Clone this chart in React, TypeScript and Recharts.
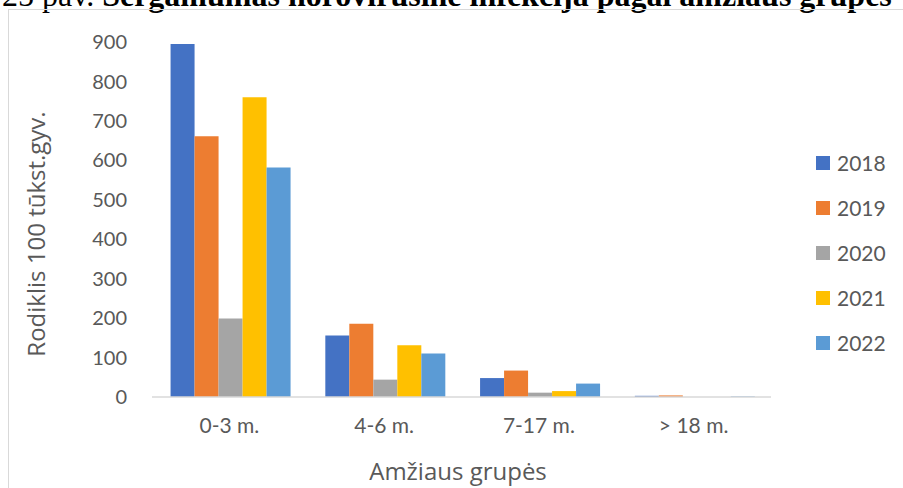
import { BarChart, Bar, XAxis, YAxis, Label } from "recharts"

const groups = ["0-3 m.", "4-6 m.", "7-17 m.", "> 18 m."]
const years = ["2018", "2019", "2020", "2021", "2022"]
const colors = ["#4472C4", "#ED7D31", "#A5A5A5", "#FFC000", "#5B9BD5"]

const v2018 = [895, 156, 48, 3]
const v2019 = [661, 186, 67, 4]
const v2020 = [199, 44, 11, 0]
const v2021 = [760, 131, 15, 0]
const v2022 = [582, 110, 34, 1.5]

const yTicks = [0, 100, 200, 300, 400, 500, 600, 700, 800, 900]

const series = [v2018, v2019, v2020, v2021, v2022]
const data = groups.map((g, i) => {
  const row: Record<string, string | number> = { group: g }
  years.forEach((y, k) => {
    row[y] = series[k][i]
  })
  return row
})

const FONT = "Lato, 'Open Sans', sans-serif"
const TITLE_FONT = "'Open Sans', Lato, sans-serif"
const TEXT = "#595959"

function LegendBox() {
  return (
    <div style={{ position: "absolute", left: 816, top: 140, fontFamily: FONT }}>
      {years.map((y, i) => (
        <div key={y} style={{ display: "flex", alignItems: "center", height: 45 }}>
          <span style={{ width: 14, height: 14, background: colors[i], marginRight: 7 }} />
          <span style={{ fontSize: 21, color: TEXT }}>{y}</span>
        </div>
      ))}
    </div>
  )
}

export default function App() {
  return (
    <div style={{ position: "absolute", left: 0, top: 0, width: 903, height: 488, overflow: "hidden", background: "#fff" }}>
      <svg width={903} height={20} style={{ position: "absolute", left: 0, top: 0 }}>
        <text x={2} y={6} fontFamily="'Liberation Serif', serif" fontSize={32} fill="#000">
          25 pav. <tspan fontWeight="bold">Sergamumas norovirusine infekcija pagal amžiaus grupes</tspan>
        </text>
      </svg>
      <div
        style={{
          position: "absolute",
          left: 8,
          top: 9,
          width: 1000,
          height: 600,
          border: "1.5px solid #d9d9d9",
        }}
      />
      <div style={{ position: "absolute", left: 0, top: 0 }}>
        <BarChart
          width={903}
          height={488}
          data={data}
          margin={{ top: 42, right: 132, bottom: 0, left: 0 }}
          barCategoryGap="12%"
          barGap={0}
        >
          <XAxis
            dataKey="group"
            height={91}
            tickLine={false}
            axisLine={{ stroke: "#d9d9d9", strokeWidth: 1.5 }}
            tick={{ fontSize: 21, fill: TEXT, fontFamily: FONT }}
            tickMargin={15}
          >
            <Label
              content={() => (
                <text x={458} y={470} textAnchor="middle" dominantBaseline="central" fontSize={24} fill={TEXT} fontFamily={TITLE_FONT}>
                  Amžiaus grupės
                </text>
              )}
            />
          </XAxis>
          <YAxis
            width={152}
            domain={[0, 900]}
            ticks={yTicks}
            interval={0}
            axisLine={false}
            tickLine={false}
            tickMargin={19}
            tick={{ fontSize: 20, fill: TEXT, fontFamily: FONT }}
          >
            <Label
              content={() => (
                <text
                  x={35}
                  y={234}
                  transform="rotate(-90, 35, 234)"
                  textAnchor="middle"
                  dominantBaseline="central"
                  fontSize={24}
                  fill={TEXT}
                  fontFamily={TITLE_FONT}
                >
                  Rodiklis 100 tūkst.gyv.
                </text>
              )}
            />
          </YAxis>
          {years.map((y, i) => (
            <Bar key={y} dataKey={y} fill={colors[i]} isAnimationActive={false} />
          ))}
        </BarChart>
      </div>
      <LegendBox />
    </div>
  )
}
